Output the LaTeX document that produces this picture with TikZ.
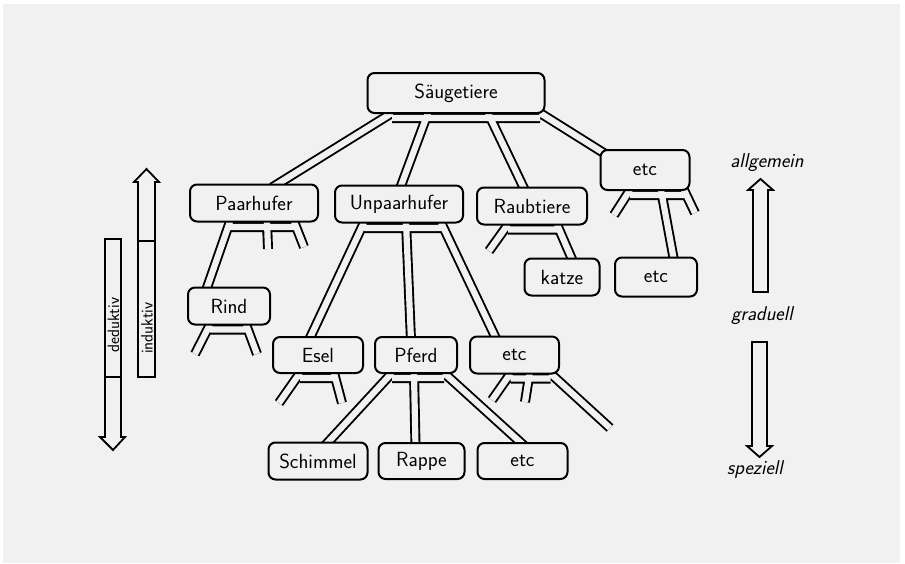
\documentclass[tikz,border=0pt]{standalone}
\usepackage{xcolor}
\usetikzlibrary{positioning,calc,backgrounds}
\definecolor{paper}{HTML}{F1F1F1}
\tikzset{
  box/.style={draw, line width=2pt, rounded corners=7pt, fill=paper, minimum height=37pt, inner sep=2pt, font=\sffamily\fontsize{20.5}{24}\selectfont},
  pipe/.style={line width=1.9pt, double=paper, double distance=6.2pt},
  blk/.style={draw, line width=1.8pt, fill=paper},
  lbl/.style={font=\sffamily\slshape\fontsize{20}{24}\selectfont},
  vlbl/.style={font=\sffamily\fontsize{16.5}{20}\selectfont, rotate=90, inner sep=0pt}}

\begin{document}
\begin{tikzpicture}[x=1pt, y=-1pt]
\node[box, minimum width=177pt, minimum height=40pt] (saeug) at (456,93) {Säugetiere};
\node[box, minimum width=128pt] (paar) at (254,203) {Paarhufer};
\node[box, minimum width=128pt] (unpaar) at (399,204) {Unpaarhufer};
\node[box, minimum width=110pt] (raub) at (532,206) {Raubtiere};
\node[box, minimum width=89pt, minimum height=40pt] (etcA) at (645,170) {etc};
\node[box, minimum width=82pt] (rind) at (229,306) {Rind};
\node[box, minimum width=75pt] (katze) at (562,277) {katze};
\node[box, minimum width=82pt, minimum height=39pt] (etcB) at (656,277) {etc};
\node[box, minimum width=90pt, minimum height=36pt] (esel) at (318,355) {Esel};
\node[box, minimum width=82pt, minimum height=36pt, right=10pt of esel] (pferd) {Pferd};
\node[box, minimum width=89pt, right=11pt of pferd] (etcC) {etc};
\node[box, minimum width=99pt] (schim) at (318,461) {Schimmel};
\node[box, minimum width=86pt, minimum height=36pt, right=9pt of schim] (rappe) {Rappe};
\node[box, minimum width=90pt, minimum height=36pt, right=11pt of rappe] (etcD) {etc};

\coordinate (paS1) at (268,249);
\coordinate (paS2) at (304,247);
\coordinate (riS1) at (195,354);
\coordinate (riS2) at (257,354);
\coordinate (raS1) at (489,251);
\coordinate (etS1) at (614,215);
\coordinate (etS2) at (695,213);
\coordinate (esS1) at (279,403);
\coordinate (esS2) at (342,403);
\coordinate (ecS1) at (492,400);
\coordinate (ecS2) at (525,402);
\coordinate (ecS3) at (610,428);

\draw[blk] (105,239) -- (121,239) -- (121,437) -- (125,437) -- (113,450) -- (100,437) -- (105,437) -- cycle;
\draw[line width=1.8pt] (105,377) -- (121,377);
\node[vlbl] (ded) at (113.5,325) {deduktiv};
\draw[blk] (138,377) -- (155,377) -- (155,182) -- (159,182) -- (146.5,169) -- (134,182) -- (138,182) -- cycle;
\draw[line width=1.8pt] (138,241) -- (155,241);
\node[vlbl] (ind) at (147,328) {induktiv};

\draw[blk] (753,292) -- (768,292) -- (768,190) -- (773,190) -- (760.5,179) -- (748,190) -- (753,190) -- cycle;
\draw[blk] (752,342) -- (767,342) -- (767,446) -- (772,446) -- (759.5,457) -- (747,446) -- (752,446) -- cycle;
\node[lbl] (allg) at (767,163) {allgemein};
\node[lbl] (grad) at (762,316) {graduell};
\node[lbl] (spez) at (755,470) {speziell};

\begin{scope}[on background layer]
\fill[white] (0,0) rectangle (905,563);
\fill[paper] (3,4) rectangle (900,563);
\draw[pipe] ($(saeug.south)+(-64,4)$) -- ($(saeug.south)+(84,4)$)
  ($(saeug.south)+(-64,-1)$) -- ($(paar.north)+(18,4)$)
  ($(saeug.south)+(-28,-1)$) -- ($(unpaar.north)+(1,4)$)
  ($(saeug.south)+(32,-1)$) -- ($(raub.north)+(-7,4)$)
  ($(saeug.south)+(84,-1)$) -- ($(etcA.north west)+(9,7)$);
\draw[pipe] ($(paar.south)+(-24,4.5)$) -- ($(paar.south)+(40,4.5)$)
  ($(paar.south)+(-24,-1)$) -- ($(rind.north)+(-23,4)$)
  ($(paar.south)+(13,-1)$) -- (paS1)
  ($(paar.south)+(40,-1)$) -- (paS2);
\draw[pipe] ($(rind.south)+(-19,4)$) -- ($(rind.south)+(17,4)$)
  ($(rind.south)+(-19,-1)$) -- (riS1)
  ($(rind.south)+(17,-1)$) -- (riS2);
\draw[pipe] ($(unpaar.south)+(-35,4.5)$) -- ($(unpaar.south)+(42,4.5)$)
  ($(unpaar.south)+(-35,-1)$) -- ($(esel.north)+(-9,4)$)
  ($(unpaar.south)+(7,-1)$) -- ($(pferd.north)+(-5,4)$)
  ($(unpaar.south)+(42,-1)$) -- ($(etcC.north)+(-18,4)$);
\draw[pipe] ($(raub.south)+(-24,4)$) -- ($(raub.south)+(25,4)$)
  ($(raub.south)+(-24,-1)$) -- (raS1)
  ($(raub.south)+(25,-1)$) -- ($(katze.north)+(11,4)$);
\draw[pipe] ($(etcA.south)+(-15,4)$) -- ($(etcA.south)+(39,4)$)
  ($(etcA.south)+(-15,-1)$) -- (etS1)
  ($(etcA.south)+(16,-1)$) -- ($(etcB.north)+(18,4)$)
  ($(etcA.south)+(39,-1)$) -- (etS2);
\draw[pipe] ($(esel.south)+(-18,4)$) -- ($(esel.south)+(16,4)$)
  ($(esel.south)+(-18,-1)$) -- (esS1)
  ($(esel.south)+(16,-1)$) -- (esS2);
\draw[pipe] ($(pferd.south)+(-24,4)$) -- ($(pferd.south)+(28,4)$)
  ($(pferd.south)+(-24,-1)$) -- ($(schim.north)+(7,4)$)
  ($(pferd.south)+(-2,-1)$) -- ($(rappe.north)+(-6,4)$)
  ($(pferd.south)+(28,-1)$) -- ($(etcD.north)+(2,4)$);
\draw[pipe] ($(etcC.south)+(-4,4)$) -- ($(etcC.south)+(36,4)$)
  ($(etcC.south)+(-4,-1)$) -- (ecS1)
  ($(etcC.south)+(15,-1)$) -- (ecS2)
  ($(etcC.south)+(36,-1)$) -- (ecS3);
\end{scope}
\end{tikzpicture}
\end{document}
